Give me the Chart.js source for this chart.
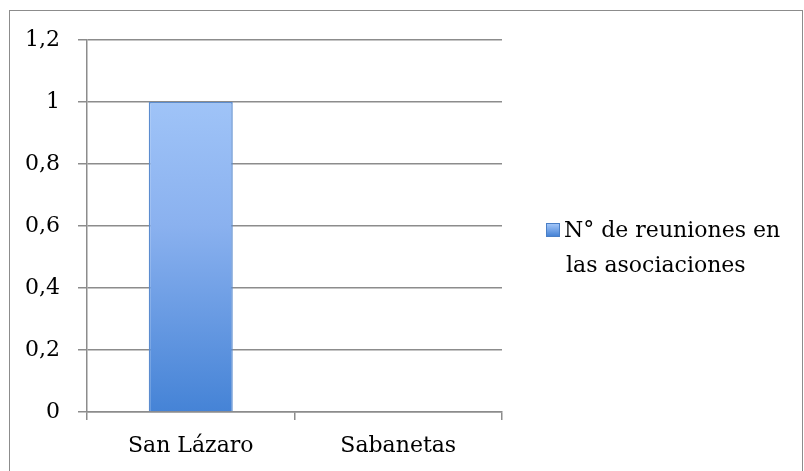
<!DOCTYPE html>
<html>
<head>
  <meta charset="UTF-8">
  <title>N° de reuniones en las asociaciones</title>
  <script src="https://cdn.jsdelivr.net/npm/chart.js"></script>
  <style>
    html, body { margin: 0; padding: 0; background: #fff; }
    #wrap { position: relative; width: 804px; height: 471px; overflow: hidden; }
    #frame { position: absolute; left: 9px; top: 10px; width: 792px; height: 480px;
             border: 1.5px solid #8c8c8c; border-bottom: none; }
    #chart { position: absolute; left: 0; top: 0; }
    #legend { position: absolute; left: 546px; top: 212px; font-family: "DejaVu Serif", serif;
              font-size: 22px; line-height: 35px; color: #000; }
    #legend .box { display: inline-block; width: 14px; height: 14px; margin-right: 4px;
                   vertical-align: 0px; background: linear-gradient(#a9cbfb, #3f7ed3);
                   box-shadow: inset 0 0 0 1px #4a7fc6; }
    #legend .l2 { padding-left: 20px; }
  </style>
</head>
<body>
<div id="wrap">
  <div id="frame"></div>
  <canvas id="chart" width="804" height="471"></canvas>
  <div id="legend">
    <div><span class="box"></span>N° de reuniones en</div>
    <div class="l2">las asociaciones</div>
  </div>
</div>
<script>
  // data
  const categories = ['San Lázaro', 'Sabanetas'];
  const reuniones = [1, 0];
  const seriesLabel = 'N° de reuniones en las asociaciones';

  const FONT = { family: '"DejaVu Serif", serif', size: 22 };

  function barGradient(ctx) {
    const area = ctx.chart.chartArea;
    if (!area) return '#7aa6e8';
    const g = ctx.chart.ctx.createLinearGradient(0, area.top, 0, area.bottom);
    g.addColorStop(0, '#aacdfc');
    g.addColorStop(0.5, '#8ab1ef');
    g.addColorStop(1, '#4583d6');
    return g;
  }

  new Chart(document.getElementById('chart').getContext('2d'), {
    type: 'bar',
    data: {
      labels: categories,
      datasets: [{
        label: seriesLabel,
        data: reuniones,
        backgroundColor: barGradient,
        borderColor: '#5b8ccf',
        borderWidth: 1.5,
        barPercentage: 0.405,
        categoryPercentage: 1
      }]
    },
    options: {
      responsive: false,
      animation: false,
      layout: { padding: { left: 0, right: 302, top: 40, bottom: 0 } },
      plugins: { legend: { display: false }, tooltip: { enabled: false } },
      scales: {
        x: {
          grid: { drawOnChartArea: false, drawTicks: true, tickLength: 8, color: '#8c8c8c', lineWidth: 1.5 },
          border: { color: '#8c8c8c', width: 1.5 },
          ticks: { color: '#000', font: FONT, padding: 13 },
          afterFit: s => { s.height = 59; }
        },
        y: {
          min: 0,
          max: 1.2,
          grid: { color: '#8c8c8c', lineWidth: 1.5, tickLength: 9 },
          border: { color: '#8c8c8c', width: 1.5 },
          ticks: {
            stepSize: 0.2,
            color: '#000',
            font: FONT,
            padding: 18,
            callback: v => String(Math.round(v * 10) / 10).replace('.', ',')
          },
          afterFit: s => { s.width = 87; }
        }
      }
    }
  });
</script>
</body>
</html>
